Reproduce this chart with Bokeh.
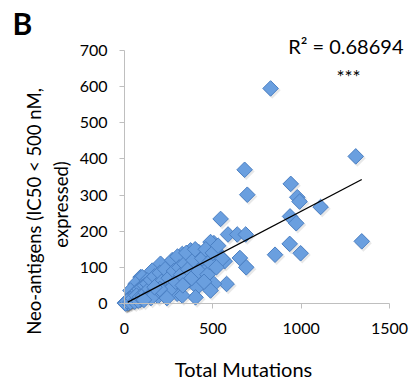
import math
from bokeh.plotting import figure
from bokeh.models import Range1d, FixedTicker, Label, ColumnDataSource
from bokeh.transform import dodge
from bokeh.embed import file_html
from bokeh.resources import INLINE

# ---- data ----
total_mutations = [
    827, 1309, 680, 695, 941, 978, 991, 1110, 937, 972, 1343, 935, 997, 852,
    544, 586, 638, 686, 653, 689, 506, 516, 567, 578, 506, 431, 327, 431, 412,
    487, 374, 364, 364, 289, 270, 213, 223, 147, 91, 317, 298,
    421, 487, 242, 204, 157, 100, 62, 34, 346, 553, 449, 487, 402, 166, 128,
    91, 327, 374, 194, 128,
    5, 10, 15, 20, 25, 30, 35, 40, 45, 50, 55, 60, 65, 70, 75, 80, 85, 90, 95,
    100, 12, 18, 22, 28, 8, 3, 6, 14, 33, 48, 58, 68, 78, 88, 105, 115, 120,
    130, 140, 150, 160, 170, 180, 190, 200, 210, 220, 230, 250, 260, 270, 280,
    290, 300, 310, 320, 330, 340, 350, 360, 380, 390, 400, 420, 440, 460, 470,
    480, 500, 520, 530, 450, 200, 240, 150, 110, 170,
]
neo_antigens = [
    595, 407, 370, 301, 331, 294, 282, 267, 241, 222, 172, 165, 139, 135,
    234, 191, 191, 191, 126, 100, 167, 147, 117, 54, 54, 128, 137, 100, 45,
    110, 147, 110, 64, 100, 73, 91, 45, 73, 73, 45, 27,
    142, 170, 105, 110, 91, 73, 54, 36, 82, 124, 105, 36, 17, 41, 22,
    27, 22, 68, 73, 64,
    2, 5, 3, 8, 12, 6, 15, 10, 20, 8, 25, 15, 30, 12, 35, 20, 40, 10, 30,
    45, 1, 4, 2, 9, 3, 1, 0, 6, 4, 14, 5, 22, 8, 18, 20, 50, 30,
    55, 40, 65, 30, 75, 50, 20, 85, 60, 35, 95, 70, 40, 120, 90,
    60, 130, 100, 80, 50, 110, 140, 95, 70, 120, 150, 90, 125, 150, 80,
    115, 140, 100, 160, 60, 40, 15, 15, 10, 45,
]
trend_x = [19, 1343]
trend_y = [4, 343]
x_ticks = [0, 500, 1000, 1500]
y_ticks = [0, 100, 200, 300, 400, 500, 600, 700]
x_bounds = (0, 1500)
y_bounds = (0, 700)
x_title = "Total Mutations"
y_title_lines = ["Neo-antigens (IC50 < 500 nM,", "expressed)"]
r2_text = "R\u00b2 = 0.68694"
sig_text = "***"
panel_label = "B"

FONT = "Lato"
W, H = 410, 379
# frame covers the whole canvas; axes float at x=0 / y=0
PX0, PX1 = 124, 389     # canvas x of 0 and 1500
PY0, PY1 = 303, 50      # canvas y of 0 and 700
sx = (PX1 - PX0) / (x_bounds[1] - x_bounds[0])
sy = (PY0 - PY1) / (y_bounds[1] - y_bounds[0])
x_range = Range1d(-PX0 / sx, x_bounds[1] + (W - PX1) / sx)
y_range = Range1d(-(H - PY0) / sy, y_bounds[1] + PY1 / sy)

src = ColumnDataSource(dict(x=total_mutations, y=neo_antigens))

p = figure(width=W, height=H, output_backend="svg", toolbar_location=None,
           title=None, x_range=x_range, y_range=y_range,
           min_border_left=0, min_border_right=0, min_border_top=0,
           min_border_bottom=0)
p.outline_line_color = None
p.xgrid.visible = False
p.ygrid.visible = False
p.background_fill_color = "white"
p.border_fill_color = "white"

# shadows
p.scatter(x=dodge("x", 9, range=p.x_range), y=dodge("y", -5, range=p.y_range),
          source=src, marker="square", angle=math.pi / 4, size=12,
          fill_color="#444444", fill_alpha=0.12, line_color=None)
# markers
p.scatter(x="x", y="y", source=src, marker="square", angle=math.pi / 4, size=11,
          fill_color="#6A9FDF", line_color="#4A7FC3", line_width=1)
# trend line
p.line(trend_x, trend_y, line_color="black", line_width=1.3)

p.xaxis.fixed_location = 0
p.yaxis.fixed_location = 0
p.xaxis.bounds = x_bounds
p.yaxis.bounds = y_bounds
for ax in (p.xaxis[0], p.yaxis[0]):
    ax.axis_line_color = "#BFBFBF"
    ax.major_tick_line_color = "#BFBFBF"
    ax.minor_tick_line_color = None
    ax.major_tick_in = 0
    ax.major_tick_out = 5
    ax.major_label_text_font = FONT
    ax.major_label_text_font_size = "16px"
    ax.major_label_text_color = "black"
p.xaxis.ticker = FixedTicker(ticks=x_ticks)
p.yaxis.ticker = FixedTicker(ticks=y_ticks)
p.xaxis.major_label_standoff = 14
p.yaxis.major_label_standoff = 12

def lab(text, x, y, size, **kw):
    # x from canvas left, y from canvas top
    p.add_layout(Label(x=x, y=H - y, x_units="screen", y_units="screen", text=text,
                       text_font=FONT, text_font_size=size,
                       text_color="black", **kw))

lab(y_title_lines[0], 33, 211, "18.5px", angle=math.pi / 2,
    text_align="center", text_baseline="middle")
lab(y_title_lines[1], 60, 204, "18.5px", angle=math.pi / 2,
    text_align="center", text_baseline="middle")
lab(x_title, 243, 368, "20px", text_align="center", text_baseline="middle")
lab(r2_text, 403, 45, "20px", text_align="right", text_baseline="middle")
lab(sig_text, 348, 76, "19px", text_align="center", text_baseline="middle")
lab(panel_label, 12, 22, "30px", text_align="left", text_baseline="middle",
    text_font_style="bold")

open("out.html", "w").write(file_html(p, INLINE))
